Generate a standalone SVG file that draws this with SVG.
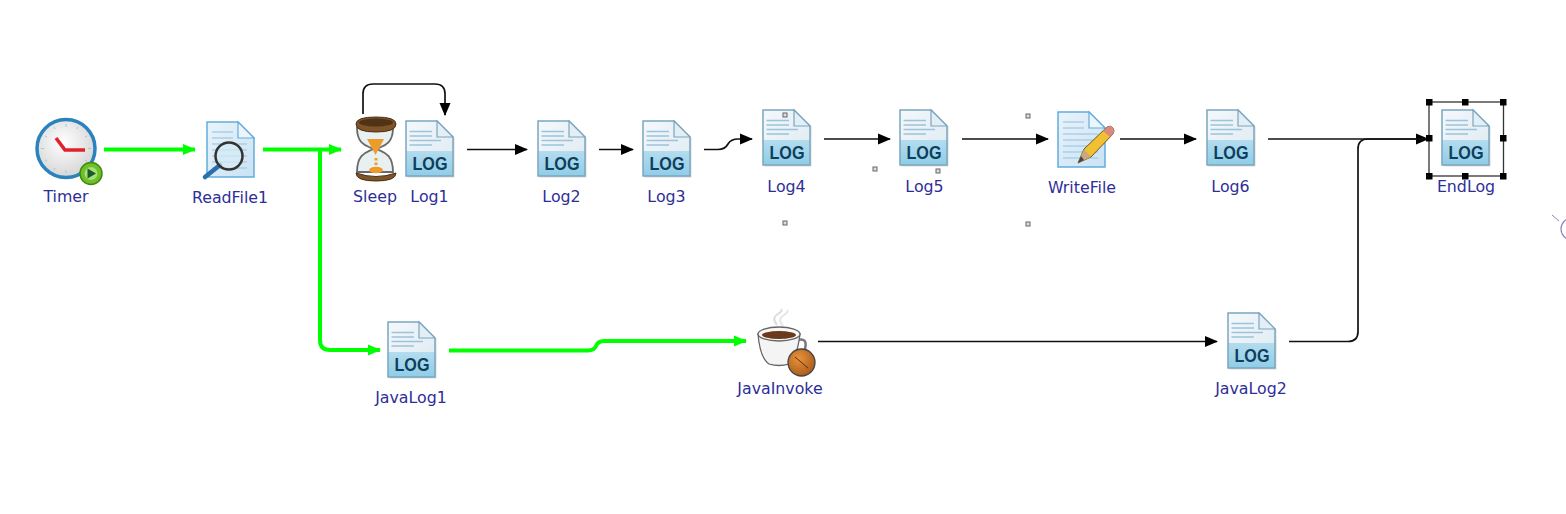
<svg xmlns="http://www.w3.org/2000/svg" xmlns:xlink="http://www.w3.org/1999/xlink" width="1566" height="514" viewBox="0 0 1566 514">
<style>
.lbl{font-family:"DejaVu Sans",sans-serif;font-size:15.8px;fill:#2e2e98;text-anchor:middle}
.bk{fill:none;stroke:#111;stroke-width:1.7}
.gr{fill:none;stroke:#00ff00;stroke-width:4}
.hs{fill:#ddd;stroke:#666;stroke-width:1}
.hb{fill:#000}
</style>
<defs>
<marker id="ab" markerUnits="userSpaceOnUse" markerWidth="13" markerHeight="12" refX="12" refY="6" orient="auto"><path d="M0 0.5L13 6L0 11.500Z" fill="#000"/></marker>
<marker id="ag" markerUnits="userSpaceOnUse" markerWidth="13" markerHeight="12" refX="12" refY="6" orient="auto"><path d="M0 0.5L13 6L0 11.500Z" fill="#00ff00"/></marker>
<linearGradient id="pg" x1="0" y1="0" x2="1" y2="1"><stop offset="0" stop-color="#f4f8fb"/><stop offset="1" stop-color="#dce9f2"/></linearGradient>
<linearGradient id="lg" x1="0" y1="0" x2="0" y2="1"><stop offset="0" stop-color="#b4dcee"/><stop offset="1" stop-color="#8fcde8"/></linearGradient>
<linearGradient id="pb" x1="0" y1="0" x2="1" y2="1"><stop offset="0" stop-color="#eaf3fa"/><stop offset="1" stop-color="#c9e2f4"/></linearGradient>
<radialGradient id="cf" cx=".45" cy=".4" r=".7"><stop offset="0" stop-color="#fff"/><stop offset="1" stop-color="#cfcfcf"/></radialGradient>
<radialGradient id="bg" cx=".4" cy=".35" r=".7"><stop offset="0" stop-color="#e8923c"/><stop offset="1" stop-color="#a85a1a"/></radialGradient>
<g id="logIcon">
<path d="M0 0H31L47 16V55H0Z" fill="#d9d9d9" transform="translate(1.500 1.500)"/>
<path d="M0 0H31L47 16V55H0Z" fill="url(#pg)"/>
<path d="M0 30H47V55H0Z" fill="url(#lg)"/>
<path d="M0 0H31L47 16V55H0Z" fill="none" stroke="#7ba6bf" stroke-width="1.500"/>
<path d="M31 0V16H47Z" fill="#e4eef5" stroke="#7ba6bf" stroke-width="1.200"/>
<path d="M3.500 10.500H26M3.500 15H26M3.500 19.500H35M3.500 24H26" stroke="#9cc3da" stroke-width="1.400" fill="none"/>
<text x="24" y="49" textLength="35" lengthAdjust="spacingAndGlyphs" style="font-family:'Liberation Sans',sans-serif;font-size:18px;font-weight:700;fill:#0f3d5c;text-anchor:middle">LOG</text>
</g>
<g id="pageIcon">
<path d="M0 0H31L47 16V55H0Z" fill="url(#pb)" stroke="#62addc" stroke-width="1.500"/>
<path d="M31 0V16H47Z" fill="#eef5fa" stroke="#62addc" stroke-width="1.200"/>
<path d="M5 10H26M5 16H26M5 22H40M5 28H40M5 34H40M5 40H40M5 46H40" stroke="#a9cfe8" stroke-width="1.300" fill="none"/>
</g>
</defs>
<rect width="1566" height="514" fill="#fff"/>

<g id="connectors">
<path class="gr" d="M104 149.500H195" marker-end="url(#ag)"/>
<path class="gr" d="M263 149.500H341" marker-end="url(#ag)"/>
<path class="gr" d="M320 150V340Q320 350 330 350H380" marker-end="url(#ag)"/>
<path class="gr" d="M449 350.500H588Q594 350.500 596 346Q598 341 604 341H746" marker-end="url(#ag)"/>
<path class="bk" d="M363 114V94Q363 84 373 84H435Q445 84 445 94V115" marker-end="url(#ab)"/>
<path class="bk" d="M467 149.500H527" marker-end="url(#ab)"/>
<path class="bk" d="M599 149.500H633" marker-end="url(#ab)"/>
<path class="bk" d="M704 149.500H718Q725 149.500 728 144Q731 139 738 139H752" marker-end="url(#ab)"/>
<path class="bk" d="M824 139H890" marker-end="url(#ab)"/>
<path class="bk" d="M962 139H1048" marker-end="url(#ab)"/>
<path class="bk" d="M1120 139H1196" marker-end="url(#ab)"/>
<path class="bk" d="M1268 139H1428" marker-end="url(#ab)"/>
<path class="bk" d="M818 341.500H1217" marker-end="url(#ab)"/>
<path class="bk" d="M1289 341.500H1348Q1358 341.500 1358 331.500V149Q1358 139 1368 139H1428"/>
</g>

<g id="Timer">
<circle cx="66" cy="148.500" r="29" fill="url(#cf)" stroke="#2a83bd" stroke-width="3.500"/>
<path d="M66 124v3M66 170v3M41 148.500h3M88 148.500h3M54 127l1 2M78 127l-1 2M45 136l2 1M87 136l-2 1M45 161l2-1M87 161l-2-1M54 170l1-2" stroke="#a9c6da" stroke-width="1"/>
<path d="M56 138L65 150H85" fill="none" stroke="#e0222c" stroke-width="3.600"/>
<circle cx="91" cy="173.500" r="11" fill="#6fbf26" stroke="#3e8a12" stroke-width="1.500"/>
<circle cx="91" cy="173.500" r="6.500" fill="#a6e07a"/>
<path d="M87.500 168.500L96 173.500L87.500 178.500Z" fill="#1d5a2a"/>
<text class="lbl" x="66" y="202">Timer</text>
</g>

<g id="ReadFile1">
<use xlink:href="#pageIcon" href="#pageIcon" x="207" y="122"/>
<path d="M220 165L205 177" stroke="#2a6fb0" stroke-width="4.500" stroke-linecap="round"/>
<circle cx="229" cy="156" r="13.500" fill="#d6ebf6" fill-opacity=".7" stroke="#333" stroke-width="2.500"/>
<text class="lbl" x="230" y="203">ReadFile1</text>
</g>

<g id="Sleep">
<path d="M357 128C357 146 369 146 373 149C369 152 357 152 357 172H393C393 152 381 152 377 149C381 146 393 146 393 128Z" fill="#e9f0f1" stroke="#6a6a6a" stroke-width="1.800"/>
<path d="M367 139H384L375.500 155Z" fill="#ed9b2a"/>
<path d="M376 158V167" stroke="#ed9b2a" stroke-width="3" stroke-dasharray="2.500 2"/>
<ellipse cx="376" cy="170" rx="7" ry="3.200" fill="#ed9b2a"/>
<path d="M356 124Q356 117 376 117Q396 117 396 124Q396 132 376 132Q356 132 356 124Z" fill="#7e5428" stroke="#4a2f14"/>
<ellipse cx="376" cy="122.500" rx="17" ry="4" fill="#4f3217"/>
<path d="M356 173Q376 180 396 173Q396 181 376 181Q356 181 356 173Z" fill="#7e5428" stroke="#4a2f14"/>
<text class="lbl" x="375" y="202">Sleep</text>
</g>

<g id="Log1"><use xlink:href="#logIcon" href="#logIcon" x="406" y="121"/><text class="lbl" x="429.500" y="202">Log1</text></g>
<g id="Log2"><use xlink:href="#logIcon" href="#logIcon" x="538" y="121"/><text class="lbl" x="561.500" y="202">Log2</text></g>
<g id="Log3"><use xlink:href="#logIcon" href="#logIcon" x="643" y="121"/><text class="lbl" x="666.500" y="202">Log3</text></g>
<g id="Log4"><use xlink:href="#logIcon" href="#logIcon" x="763" y="110"/><text class="lbl" x="786.500" y="192">Log4</text></g>
<g id="Log5"><use xlink:href="#logIcon" href="#logIcon" x="900" y="110"/><text class="lbl" x="924.500" y="192">Log5</text></g>

<g id="WriteFile">
<use xlink:href="#pageIcon" href="#pageIcon" x="1058" y="112"/>
<path d="M1078 163L1084 149L1107 127Q1111 125 1113 128Q1115 131 1113 134L1091 157Z" fill="#f2c132" stroke="#6b5a20" stroke-width="1"/>
<path d="M1078 163L1084 149L1091 157Z" fill="#caa77e"/>
<path d="M1078 163L1081 156L1084 160Z" fill="#444"/>
<path d="M1107 127Q1111 125 1113 128Q1115 131 1113 134L1110 137L1103 131Z" fill="#d98a80"/>
<text class="lbl" x="1082" y="193">WriteFile</text>
</g>

<g id="Log6"><use xlink:href="#logIcon" href="#logIcon" x="1207" y="110"/><text class="lbl" x="1230.500" y="192">Log6</text></g>

<g id="EndLog">
<use xlink:href="#logIcon" href="#logIcon" x="1442" y="110"/>
<rect x="1429" y="102" width="74.500" height="74" fill="none" stroke="#333" stroke-width="1.300"/>
<g class="hb">
<rect x="1426" y="99" width="6.500" height="6.500"/><rect x="1462" y="99" width="6.500" height="6.500"/><rect x="1500" y="99" width="6.500" height="6.500"/>
<rect x="1426" y="135" width="6.500" height="6.500"/><rect x="1500" y="135" width="6.500" height="6.500"/>
<rect x="1426" y="173" width="6.500" height="6.500"/><rect x="1462" y="173" width="6.500" height="6.500"/><rect x="1500" y="173" width="6.500" height="6.500"/>
</g>
<text class="lbl" x="1466" y="192">EndLog</text>
</g>

<g id="JavaLog1"><use xlink:href="#logIcon" href="#logIcon" x="388" y="322"/><text class="lbl" x="411" y="403">JavaLog1</text></g>

<g id="JavaInvoke">
<path d="M777 325Q771 318 778 314Q783 311 781 309" fill="none" stroke="#ddd" stroke-width="2"/>
<path d="M783 326Q777 319 784 315Q789 312 787 310" fill="none" stroke="#e6e6e6" stroke-width="2"/>
<path d="M797 340Q808 337 805 349Q803 355 794 357" fill="none" stroke="#777" stroke-width="2.500"/>
<path d="M758 334Q760 358 769 364Q779 367 789 364Q797 358 800 334Z" fill="#f4f4f4" stroke="#666" stroke-width="1.300"/>
<ellipse cx="779" cy="334" rx="21" ry="7" fill="#f8f8f8" stroke="#666" stroke-width="1.300"/>
<ellipse cx="779" cy="335" rx="17" ry="4" fill="#6b3a1c"/>
<circle cx="801.500" cy="362.500" r="13.500" fill="url(#bg)" stroke="#444" stroke-width="1.300"/>
<path d="M795 357L808 368" stroke="#5a2f0e" stroke-width="1"/>
<text class="lbl" x="780" y="394">JavaInvoke</text>
</g>

<g id="JavaLog2"><use xlink:href="#logIcon" href="#logIcon" x="1228" y="313"/><text class="lbl" x="1251" y="394">JavaLog2</text></g>

<g id="handles">
<rect class="hs" x="783" y="113" width="4" height="4"/>
<rect class="hs" x="873" y="167" width="4" height="4"/>
<rect class="hs" x="936" y="169" width="4" height="4"/>
<rect class="hs" x="783" y="221" width="4" height="4"/>
<rect class="hs" x="1026" y="114" width="4" height="4"/>
<rect class="hs" x="1026" y="222" width="4" height="4"/>
</g>

<g id="fragment">
<path d="M1552 215L1559 221" fill="none" stroke="#8a8ac0" stroke-width="1"/>
<circle cx="1572" cy="229" r="11" fill="none" stroke="#8a8ac0" stroke-width="1.200"/>
</g>
</svg>
